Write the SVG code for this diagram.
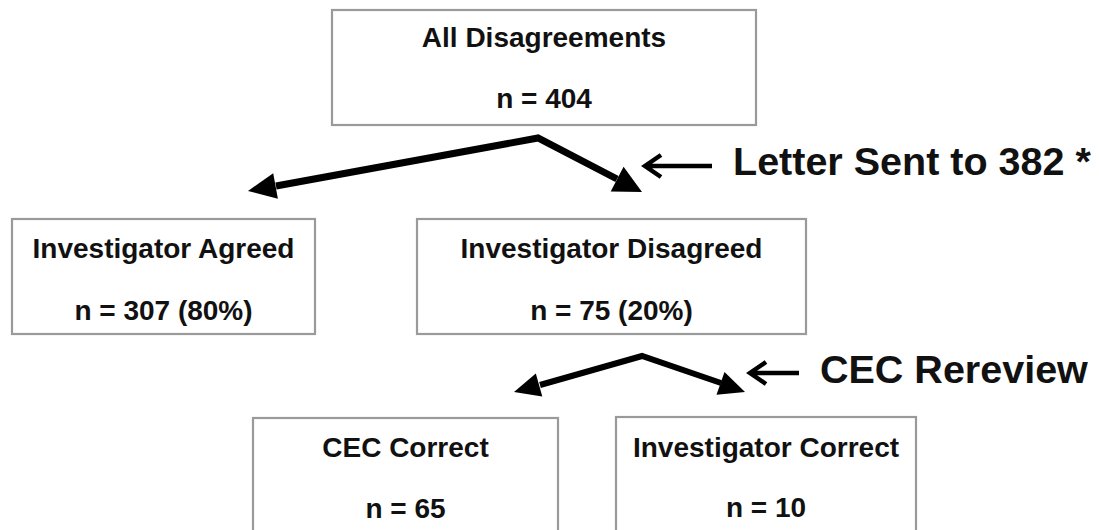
<svg xmlns="http://www.w3.org/2000/svg" width="1099" height="530" viewBox="0 0 1099 530">
<style>
.box{fill:#fff;stroke:#9a9a9a;stroke-width:2.2}
.t{font-family:"Liberation Sans",Arial,sans-serif;font-weight:bold;font-size:28px;fill:#111;text-anchor:middle}
.lbl{font-family:"Liberation Sans",Arial,sans-serif;font-weight:bold;font-size:39.5px;fill:#111}
.ln{fill:none;stroke:#000;stroke-linejoin:miter;stroke-miterlimit:10}
.hd{fill:#000}
.sm{fill:none;stroke:#000;stroke-width:4.5;stroke-linecap:butt;stroke-linejoin:miter}
</style>
<rect width="1099" height="530" fill="#fff"/>
<g id="connectors">
<polyline class="ln" stroke-width="7" points="276,186 538,138 617,179"/>
<polygon class="hd" points="248,191 277.9,198.8 273.2,173.2"/>
<polygon class="hd" points="642,192 610.7,191.5 623.6,166.7"/>
<polyline class="ln" stroke-width="6" points="540,385 642,356 721,383"/>
<polygon class="hd" points="514,392 542.3,396.5 535.8,373.4"/>
<polygon class="hd" points="745,392 716.5,394.8 724.5,372.1"/>
</g>
<g id="note-letter">
<path class="sm" d="M646,166 L712,166 M661,155 L645,166 L661,177"/>
<text class="lbl" x="733" y="175">Letter Sent to 382 *</text>
</g>
<g id="note-cec">
<path class="sm" d="M751,373 L799,373 M766,362 L750,373 L766,384"/>
<text class="lbl" x="820" y="383">CEC Rereview</text>
</g>
<g id="all-disagreements">
<rect class="box" x="332" y="10" width="424" height="115"/>
<text class="t" x="544" y="47">All Disagreements</text>
<text class="t" x="544" y="108">n = 404</text>
</g>
<g id="investigator-agreed">
<rect class="box" x="12" y="219" width="303" height="115"/>
<text class="t" x="163.5" y="258">Investigator Agreed</text>
<text class="t" x="163.5" y="320">n = 307 (80%)</text>
</g>
<g id="investigator-disagreed">
<rect class="box" x="417" y="219" width="389" height="115"/>
<text class="t" x="611.5" y="258">Investigator Disagreed</text>
<text class="t" x="611.5" y="320">n = 75 (20%)</text>
</g>
<g id="cec-correct">
<rect class="box" x="253" y="418" width="305" height="130"/>
<text class="t" x="405.5" y="457">CEC Correct</text>
<text class="t" x="405.5" y="518">n = 65</text>
</g>
<g id="investigator-correct">
<rect class="box" x="616" y="417" width="300" height="130"/>
<text class="t" x="766" y="457">Investigator Correct</text>
<text class="t" x="766" y="517">n = 10</text>
</g>
</svg>
